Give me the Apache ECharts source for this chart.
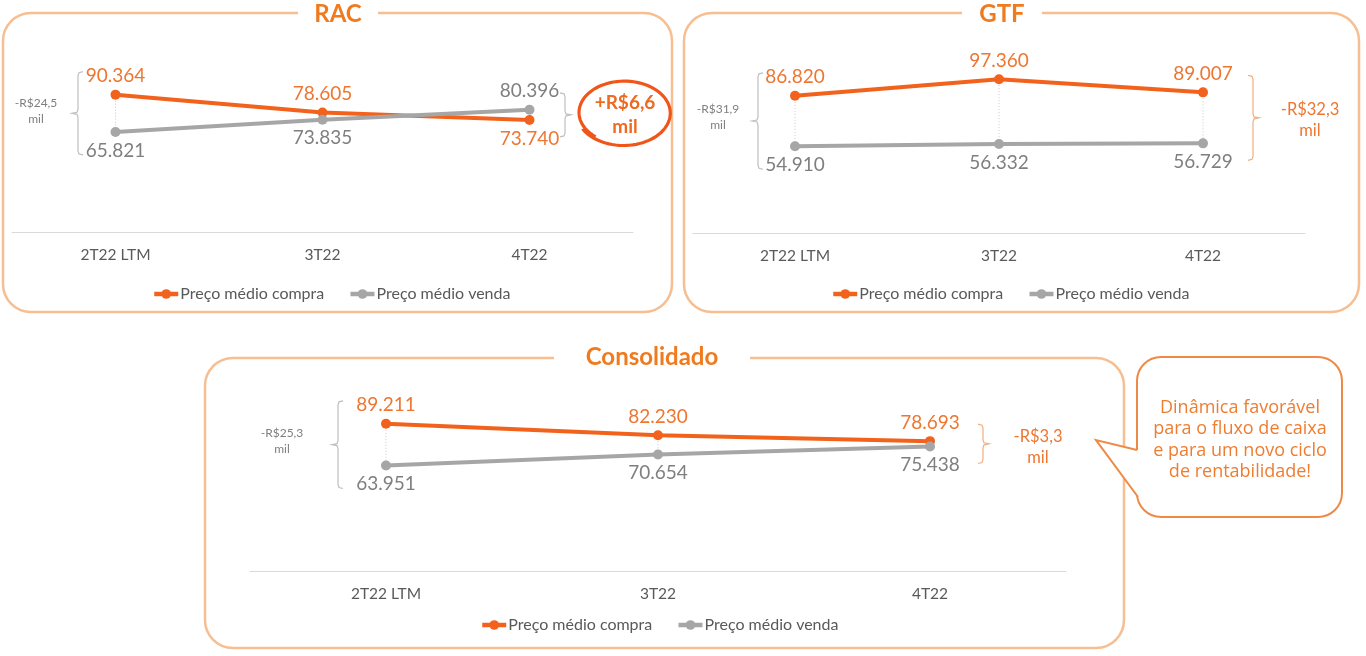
<!DOCTYPE html>
<html><head><meta charset="utf-8">
<script src="https://cdn.jsdelivr.net/npm/echarts@6/dist/echarts.min.js"></script>
<style>html,body{margin:0;padding:0;background:#fff}#c{width:1366px;height:656px}</style>
</head><body><div id="c"></div>
<script>
// ---------- data ----------
const categories = ['2T22 LTM', '3T22', '4T22'];
const seriesNames = ['Preço médio compra', 'Preço médio venda'];
const racCompra = [90364, 78605, 73740];
const racVenda = [65821, 73835, 80396];
const gtfCompra = [86820, 97360, 89007];
const gtfVenda = [54910, 56332, 56729];
const consCompra = [89211, 82230, 78693];
const consVenda = [63951, 70654, 75438];
const panelTitles = ['RAC', 'GTF', 'Consolidado'];
const leftDeltaLabels = ['-R$24,5', '-R$31,9', '-R$25,3'];
const rightDeltaLabels = ['+R$6,6', '-R$32,3', '-R$3,3'];
const deltaUnit = 'mil';
const calloutLines = ['Dinâmica favorável', 'para o fluxo de caixa', 'e para um novo ciclo', 'de rentabilidade!'];

// ---------- style / layout ----------
const FONT = 'Lato, "Open Sans", sans-serif';
const ORANGE = '#F2621C';
const ORANGE_TXT = '#EE7630';
const GRAY = '#A6A6A6';
const GRAY_TXT = '#7F7F7F';
const BOX = '#F7BE91';
const BRACKET_GRAY = '#BFBFBF';
const BRACKET_OR = '#F2AE80';

const panels = [
  { compra: racCompra, venda: racVenda,
    grid: { left: 12, top: 80, width: 621, height: 152 },
    box: { x: 3, y: 13, w: 669, h: 299 }, title: { x: 338, y: 14, gap: 80 },
    legend: { left: 147, top: 281 },
    lb: { x: 78, tx: 36, ty: -2 }, rb: { x: 565, tx: 625, ty: 0, color: BRACKET_GRAY, circled: true } },
  { compra: gtfCompra, venda: gtfVenda,
    grid: { left: 693, top: 75, width: 612, height: 158 },
    box: { x: 684, y: 13, w: 675, h: 299 }, title: { x: 1002, y: 14, gap: 80 },
    legend: { left: 826, top: 281 },
    lb: { x: 758, tx: 718, ty: -4 }, rb: { x: 1253, tx: 1310, ty: 2, color: BRACKET_OR } },
  { compra: consCompra, venda: consVenda,
    grid: { left: 250, top: 406, width: 816, height: 165 },
    box: { x: 205, y: 358, w: 919, h: 290 }, title: { x: 652, y: 357, gap: 196 },
    legend: { left: 475, top: 612 },
    lb: { x: 338, tx: 282, ty: -4 }, rb: { x: 983, tx: 1038, ty: 3, color: BRACKET_OR } }
];

function fmt(v) { return String(v).replace(/\B(?=(\d{3})+(?!\d))/g, '.'); }

const chart = echarts.init(document.getElementById('c'), null, { renderer: 'canvas' });
const option = { animation: false, backgroundColor: '#fff', grid: [], xAxis: [], yAxis: [], legend: [], series: [] };

panels.forEach((p, i) => {
  option.grid.push(Object.assign({}, p.grid));
  option.xAxis.push({
    type: 'category', gridIndex: i, data: categories, boundaryGap: true,
    axisLine: { lineStyle: { color: '#D9D9D9', width: 1 } }, axisTick: { show: false },
    axisLabel: { color: '#595959', fontSize: 15.5, margin: 15, fontFamily: FONT }
  });
  option.yAxis.push({ type: 'value', gridIndex: i, min: 0, max: 100000, show: false, splitLine: { show: false } });
  option.legend.push({
    data: seriesNames, left: p.legend.left, top: p.legend.top, itemWidth: 24, itemHeight: 12, itemGap: 24,
    lineStyle: { width: 4.5 },
    selectedMode: false, textStyle: { fontSize: 16, color: '#595959', fontFamily: FONT, padding: [0, 0, 0, -3] }
  });
  option.series.push({
    type: 'custom', name: 'drop' + i, xAxisIndex: i, yAxisIndex: i, silent: true, z: 1,
    data: categories.map((c, k) => [k, p.compra[k], p.venda[k]]),
    encode: { x: 0, y: [1, 2] },
    renderItem: (params, api) => {
      const a = api.coord([api.value(0), api.value(1)]);
      const b = api.coord([api.value(0), api.value(2)]);
      return { type: 'line', shape: { x1: a[0], y1: a[1], x2: b[0], y2: b[1] },
               style: { stroke: '#C8C8C8', lineWidth: 1, lineDash: [1, 2] } };
    }
  });
  const mk = (arr, other, color, txt, name) => ({
    type: 'line', name: name, xAxisIndex: i, yAxisIndex: i, z: 3,
    symbol: 'circle', symbolSize: 10,
    lineStyle: { color: color, width: 4 }, itemStyle: { color: color },
    label: { show: true, fontSize: 19, fontFamily: FONT, color: txt, distance: 4, formatter: q => fmt(q.value) },
    data: arr.map((v, k) => ({ value: v, label: { position: v >= other[k] ? 'top' : 'bottom' } }))
  });
  option.series.push(mk(p.compra, p.venda, ORANGE, ORANGE_TXT, seriesNames[0]));
  option.series.push(mk(p.venda, p.compra, GRAY, GRAY_TXT, seriesNames[1]));
});

chart.setOption(option);

// ---------- annotations ----------
function brace(x, top, bottom, dir, color) {
  const mid = (top + bottom) / 2, e = 5 * dir;
  return { type: 'polyline', z: 5, silent: true,
    shape: { points: [[x + e, top], [x + dir, top + 1], [x, top + 4], [x, mid - 4], [x - dir, mid - 1], [x - e - dir, mid],
                      [x - dir, mid + 1], [x, mid + 4], [x, bottom - 4], [x + dir, bottom - 1], [x + e, bottom]] },
    style: { stroke: color, lineWidth: 1.2, fill: null } };
}

const g = [];
panels.forEach((p, i) => {
  const b = p.box, t = p.title;
  g.push({ type: 'rect', z: 0, silent: true, shape: { x: b.x, y: b.y, width: b.w, height: b.h, r: 28 },
           style: { fill: 'rgba(0,0,0,0)', stroke: BOX, lineWidth: 2.5 } });
  g.push({ type: 'rect', z: 1, silent: true, shape: { x: t.x - t.gap / 2, y: t.y - 14, width: t.gap, height: 28 }, style: { fill: '#fff' } });
  g.push({ type: 'text', z: 2, silent: true, x: t.x, y: t.y,
           style: { text: panelTitles[i], font: 'bold 24px ' + FONT, fill: '#F07B1F', align: 'center', verticalAlign: 'middle' } });

  const first = 0, last = categories.length - 1;
  const yMax0 = chart.convertToPixel({ gridIndex: i }, [first, Math.max(p.compra[first], p.venda[first])])[1];
  const yMin0 = chart.convertToPixel({ gridIndex: i }, [first, Math.min(p.compra[first], p.venda[first])])[1];
  const lt = yMax0 - 23, lbm = yMin0 + 23;
  g.push(brace(p.lb.x, lt, lbm, 1, BRACKET_GRAY));
  g.push({ type: 'text', z: 5, silent: true, x: p.lb.tx, y: (lt + lbm) / 2 + p.lb.ty,
           style: { text: leftDeltaLabels[i] + '\n' + deltaUnit, font: '12px ' + FONT, fill: GRAY_TXT,
                    align: 'center', verticalAlign: 'middle', lineHeight: 16 } });

  const yMaxN = chart.convertToPixel({ gridIndex: i }, [last, Math.max(p.compra[last], p.venda[last])])[1];
  const yMinN = chart.convertToPixel({ gridIndex: i }, [last, Math.min(p.compra[last], p.venda[last])])[1];
  const rt = yMaxN - 17, rbm = yMinN + 17, rm = (rt + rbm) / 2;
  g.push(brace(p.rb.x, rt, rbm, -1, p.rb.color));
  if (p.rb.circled) {
    g.push({ type: 'text', z: 5, silent: true, x: p.rb.tx, y: rm + p.rb.ty,
             style: { text: rightDeltaLabels[i] + '\n' + deltaUnit, font: 'bold 19px ' + FONT, fill: '#EE6A22',
                      align: 'center', verticalAlign: 'middle', lineHeight: 24 } });
    const pts = [], cx = p.rb.tx - 1, cy = rm - 2, rx = 46, ry = 32, n = 90;
    for (let s = 0; s <= n; s++) {
      const tt = s / n * Math.PI * 2.12;
      const a = Math.PI * 0.72 + tt;
      const f = 0.97 + 0.06 * (s / n);
      pts.push([cx + rx * f * Math.cos(a), cy + ry * f * Math.sin(a)]);
    }
    g.push({ type: 'polyline', z: 5, silent: true, shape: { points: pts }, style: { stroke: '#F0561A', lineWidth: 3.2, fill: null } });
  } else {
    g.push({ type: 'text', z: 5, silent: true, x: p.rb.tx, y: rm + p.rb.ty,
             style: { text: rightDeltaLabels[i] + '\n' + deltaUnit, font: '16.5px ' + FONT, fill: ORANGE_TXT,
                      align: 'center', verticalAlign: 'middle', lineHeight: 21 } });
  }
});

// callout bubble
const CB = '#EE8A45';
g.push({ type: 'rect', z: 20, silent: true, shape: { x: 1137, y: 357, width: 205, height: 160, r: 24 },
         style: { fill: '#fff', stroke: CB, lineWidth: 2 } });
g.push({ type: 'polygon', z: 21, silent: true, shape: { points: [[1096, 440], [1137, 450], [1140, 450], [1141, 496], [1138, 497]] },
         style: { fill: '#fff' } });
g.push({ type: 'polyline', z: 22, silent: true, shape: { points: [[1137, 450], [1096, 440], [1138, 497]] },
         style: { stroke: CB, lineWidth: 2, fill: null } });
g.push({ type: 'text', z: 23, silent: true, x: 1240, y: 440,
         style: { text: calloutLines.join('\n'), font: '18px "Open Sans", Lato, sans-serif', fill: '#EE7D31', align: 'center', verticalAlign: 'middle', lineHeight: 21.5 } });

chart.setOption({ graphic: g });
</script>
</body></html>
